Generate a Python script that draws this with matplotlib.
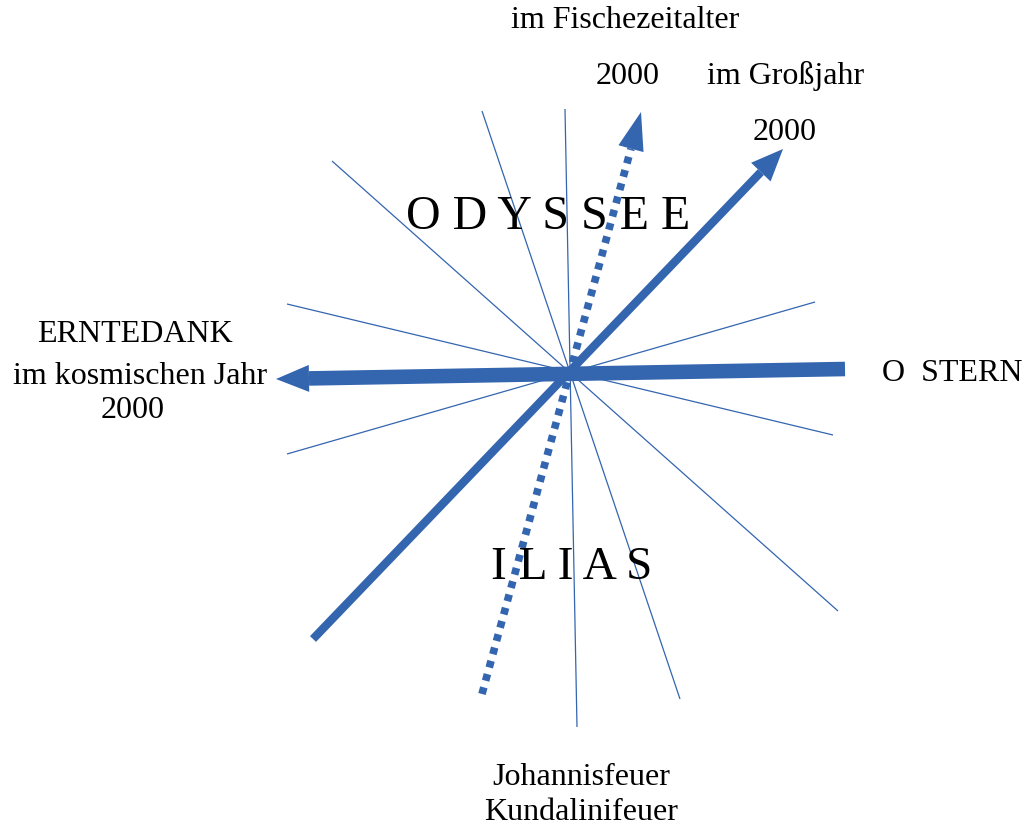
import matplotlib
matplotlib.use("Agg")
from matplotlib import pyplot as plt

BLUE = "#3465af"

# thin rays through the centre, given as (x0, y0, x1, y1) in pixel coords
thin_x0 = [482, 565, 332, 287, 287]
thin_y0 = [112, 110, 162, 305, 455]
thin_x1 = [680, 577, 838, 833, 815]
thin_y1 = [700, 728, 612, 436, 303]

# thick arrows: tail -> tip
horiz_tail = (845, 370)
horiz_tip = (276, 380)
diag_tail = (313, 640)
diag_tip = (783, 150)
dot_tail = (482, 695)
dot_tip = (641, 113)

labels = [
    ("im Fischezeitalter", 625, 20, 23),
    ("2000", 628, 76, 23),
    ("im Großjahr", 786, 76, 23),
    ("2000", 785, 132, 23),
    ("ERNTEDANK", 135, 334, 23),
    ("im kosmischen Jahr", 140, 376, 23),
    ("2000", 133, 410, 23),
    ("O  STERN", 952, 373, 23),
    ("Johannisfeuer", 581, 778, 23),
    ("Kundalinifeuer", 581, 813, 23),
    ("O D Y S S E E", 548, 217, 34.5),
    ("I L I A S", 572, 568, 34),
]

plt.rcParams["font.family"] = ["Liberation Serif", "DejaVu Serif"]

fig = plt.figure(figsize=(10.24, 8.29), dpi=100)
ax = fig.add_axes([0, 0, 1, 1])
ax.set_xlim(0, 1024)
ax.set_ylim(829, 0)
ax.axis("off")

for x0, y0, x1, y1 in zip(thin_x0, thin_y0, thin_x1, thin_y1):
    ax.plot([x0, x1], [y0, y1], color=BLUE, lw=0.9, solid_capstyle="butt")


def arrow(tail, tip, lw, head_len, head_w, ls="-"):
    # shaft stops at the head base, head drawn as a filled triangle
    dx, dy = tip[0] - tail[0], tip[1] - tail[1]
    n = (dx ** 2 + dy ** 2) ** 0.5
    ux, uy = dx / n, dy / n
    bx, by = tip[0] - ux * head_len, tip[1] - uy * head_len
    if ls == "-":
        ax.plot([tail[0], bx], [tail[1], by], color=BLUE, lw=lw, solid_capstyle="butt")
    else:
        ax.plot([tail[0], bx], [tail[1], by], color=BLUE, lw=lw, ls=ls, dash_capstyle="butt")
    px, py = -uy * head_w / 2, ux * head_w / 2
    ax.fill([tip[0], bx + px, bx - px], [tip[1], by + py, by - py], color=BLUE, lw=0)


arrow(horiz_tail, horiz_tip, 10.5, 33, 27)
arrow(diag_tail, diag_tip, 6, 32, 27)
arrow(dot_tail, dot_tip, 5.5, 38, 26, ls=(0, (0.9, 0.9)))

for text, x, y, size in labels:
    ax.text(x, y, text, ha="center", va="center", fontsize=size, color="black")

fig.savefig("out.png", dpi=100)
